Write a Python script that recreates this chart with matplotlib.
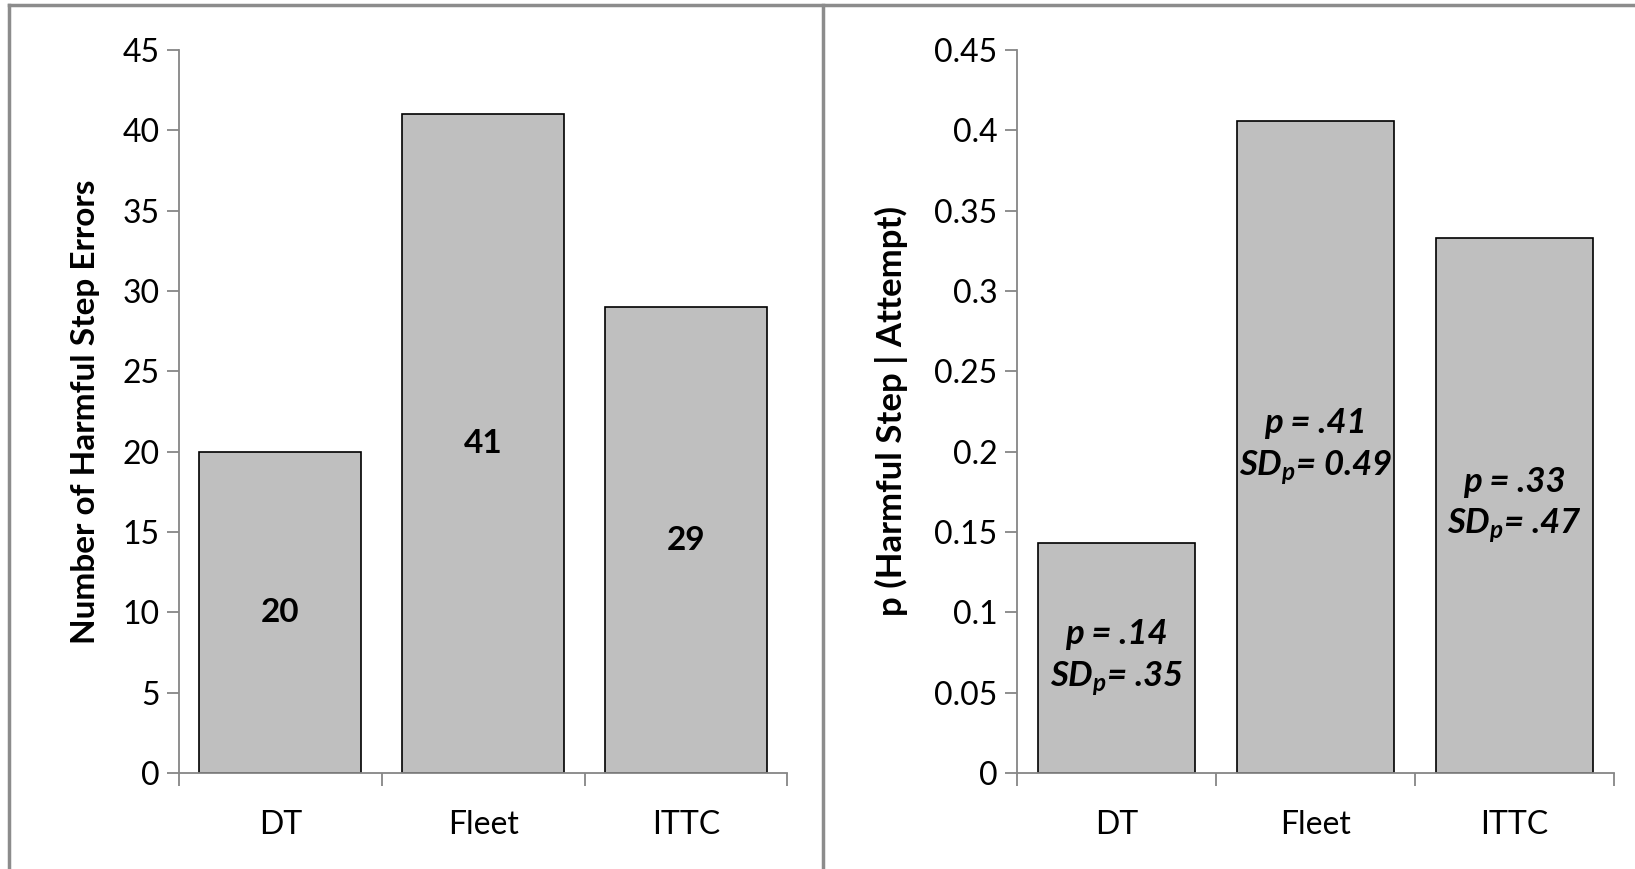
import numpy as np
import matplotlib.pyplot as plt
from matplotlib.lines import Line2D

# Data
groups = ["DT", "Fleet", "ITTC"]
errors = [20, 41, 29]
p_step = [0.143, 0.406, 0.333]
p_text = ["p = .14", "p = .41", "p = .33"]
sd_text = [r"$SD_p$= .35", r"$SD_p$= 0.49", r"$SD_p$= .47"]
left_ticks = [0, 5, 10, 15, 20, 25, 30, 35, 40, 45]
right_ticks = [0, 0.05, 0.1, 0.15, 0.2, 0.25, 0.3, 0.35, 0.4, 0.45]
right_ticklabels = ["0", "0.05", "0.1", "0.15", "0.2", "0.25", "0.3", "0.35", "0.4", "0.45"]

plt.rcParams['font.family'] = ['Lato', 'DejaVu Sans']
plt.rcParams['mathtext.fontset'] = 'custom'
plt.rcParams['mathtext.it'] = 'Lato:bold:italic'
plt.rcParams['mathtext.rm'] = 'Lato:bold:italic'

fig = plt.figure(figsize=(16.35, 8.69), dpi=100)
ax1 = fig.add_axes([0.1095, 0.1105, 0.372, 0.832])
ax2 = fig.add_axes([0.622, 0.1105, 0.365, 0.832])

axis_col = "#868686"
x = np.arange(len(groups))


def style(ax, ticks):
    ax.set_xlim(-0.5, 2.5)
    ax.set_ylim(ticks[0], ticks[-1])
    ax.set_yticks(ticks)
    for s in ["top", "right"]:
        ax.spines[s].set_visible(False)
    for s in ["left", "bottom"]:
        ax.spines[s].set_color(axis_col)
        ax.spines[s].set_linewidth(1.3)
    ax.tick_params(axis="y", direction="out", length=9, width=1.3, color=axis_col,
                   labelsize=23, pad=5)
    ax.set_xticks(x)
    ax.set_xticklabels(groups)
    ax.tick_params(axis="x", which="major", length=0, labelsize=23, pad=27)
    ax.set_xticks([-0.5, 0.5, 1.5, 2.5], minor=True)
    ax.tick_params(axis="x", which="minor", direction="out", length=9, width=1.3,
                   color=axis_col)


# Left panel
ax1.bar(x, errors, width=0.8, color="#bfbfbf", edgecolor="black", linewidth=1.2, zorder=2)
style(ax1, left_ticks)
ax1.set_ylabel("Number of Harmful Step Errors", fontsize=24, fontweight="bold")
ax1.yaxis.set_label_coords(-0.13, 0.5)
for i, v in enumerate(errors):
    ax1.text(x[i], v / 2, str(v), ha="center", va="center", fontsize=24, fontweight="bold")

# Right panel
ax2.bar(x, p_step, width=0.79, color="#bfbfbf", edgecolor="black", linewidth=1.2, zorder=2)
style(ax2, right_ticks)
ax2.set_yticklabels(right_ticklabels)
ax2.set_ylabel("p (Harmful Step | Attempt)", fontsize=25, fontweight="bold")
ax2.yaxis.set_label_coords(-0.183, 0.5)
for i, v in enumerate(p_step):
    ax2.text(x[i], v / 2, p_text[i] + "\n" + sd_text[i], ha="center", va="center",
             fontsize=25, fontweight="bold", fontstyle="italic", linespacing=1.35)

# chart borders
bc = "#8c8c8c"
fig.add_artist(Line2D([9 / 1635, 1], [1 - 5 / 869, 1 - 5 / 869], color=bc, lw=2.5))
fig.add_artist(Line2D([9 / 1635, 9 / 1635], [0, 1 - 5 / 869], color=bc, lw=2.5))
fig.add_artist(Line2D([823 / 1635, 823 / 1635], [0, 1 - 5 / 869], color=bc, lw=2.5))

fig.savefig("out.png", dpi=100)
